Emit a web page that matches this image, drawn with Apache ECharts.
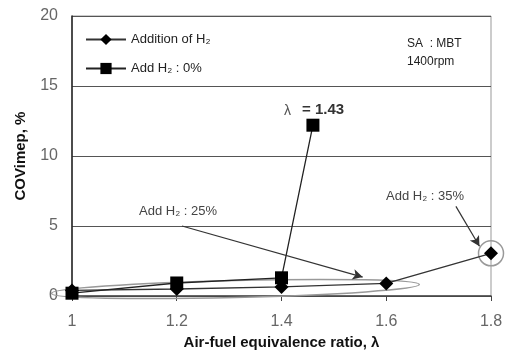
<!DOCTYPE html>
<html><head><meta charset="utf-8">
<script src="https://cdn.jsdelivr.net/npm/echarts@6/dist/echarts.min.js"></script>
<style>html,body{margin:0;padding:0;background:#fff}#c{width:512px;height:355px}</style>
</head><body><div id="c"></div>
<script>
var xTicks = [1, 1.2, 1.4, 1.6, 1.8];
var yTicks = [0, 5, 10, 15, 20];
var h2Lambda = [1, 1.2, 1.4, 1.6, 1.8];
var h2Cov = [0.4, 0.5, 0.65, 0.9, 3.05];
var zeroLambda = [1, 1.2, 1.4, 1.46];
var zeroCov = [0.2, 0.93, 1.3, 12.2];
var seriesNames = ['Addition of H\u2082', 'Add H\u2082 : 0%'];

var chart = echarts.init(document.getElementById('c'), null, {renderer: 'canvas'});
function pairs(xs, ys) { return xs.map(function (x, i) { return [x, ys[i]]; }); }
var font = 'Liberation Sans, Arial, sans-serif';
var arrowLines = [
  [{coord: [1.21, 5.0]}, {coord: [1.555, 1.35]}],
  [{coord: [1.733, 6.4]}, {coord: [1.778, 3.55]}]
];
chart.setOption({
  animation: false,
  grid: {left: 72, right: 21, top: 16, bottom: 59, show: true, borderColor: '#999', borderWidth: 1},
  xAxis: {
    type: 'value', min: 1, max: 1.8, interval: 0.2,
    axisLine: {lineStyle: {color: '#444', width: 1.5}},
    axisTick: {show: true, length: 5, lineStyle: {color: '#444'}},
    splitLine: {show: false},
    axisLabel: {color: '#666', fontSize: 16, fontFamily: font, margin: 18,
      formatter: function (v) { return String(Math.round(v * 10) / 10); }},
    name: 'Air-fuel equivalence ratio, \u03bb', nameLocation: 'middle', nameGap: 38,
    nameTextStyle: {color: '#111', fontSize: 15, fontWeight: 'bold', fontFamily: font}
  },
  yAxis: {
    type: 'value', min: 0, max: 20, interval: 5,
    axisLine: {show: true, lineStyle: {color: '#222', width: 1.5}},
    axisTick: {show: false},
    splitLine: {show: true, lineStyle: {color: '#555', width: 1.2}},
    axisLabel: {color: '#666', fontSize: 16, fontFamily: font, margin: 14},
    name: 'COVimep, %', nameLocation: 'middle', nameGap: 44,
    nameTextStyle: {color: '#111', fontSize: 15, fontWeight: 'bold', fontFamily: font}
  },
  legend: {
    orient: 'vertical', left: 80, top: 28, itemGap: 16, itemWidth: 40, itemHeight: 14,
    textStyle: {color: '#222', fontSize: 13, fontFamily: font},
    data: seriesNames
  },
  series: [
    {
      name: seriesNames[0], type: 'line', data: pairs(h2Lambda, h2Cov),
      symbol: 'diamond', symbolSize: 14,
      lineStyle: {color: '#333', width: 1.3}, itemStyle: {color: '#000'},
      markLine: {
        silent: true, symbol: ['none', 'arrow'], symbolSize: [8, 10],
        lineStyle: {color: '#333', width: 1.2, type: 'solid'},
        label: {show: false}, data: arrowLines
      }
    },
    {
      name: seriesNames[1], type: 'line', data: pairs(zeroLambda, zeroCov),
      symbol: 'rect', symbolSize: 13,
      lineStyle: {color: '#222', width: 1.3}, itemStyle: {color: '#000'}
    }
  ]
});

var c0 = chart.convertToPixel({gridIndex: 0}, [1.312, 0.5]);
var cR = chart.convertToPixel({gridIndex: 0}, [1.8, 3.05]);
chart.setOption({
  graphic: [
    {type: 'ellipse', shape: {cx: c0[0], cy: c0[1], rx: 184, ry: 8.5}, rotation: 0.024,
      originX: c0[0], originY: c0[1],
      style: {fill: 'none', stroke: '#999', lineWidth: 1.5}, z: 1},
    {type: 'circle', shape: {cx: cR[0], cy: cR[1], r: 12.5},
      style: {fill: 'none', stroke: '#999', lineWidth: 1.5}, z: 1},
    {type: 'text', left: 407, top: 35, style: {text: 'SA  : MBT\n1400rpm', fill: '#222', font: '12px ' + font, lineHeight: 18}},
    {type: 'text', left: 284, top: 104, style: {text: '\u03bb', fill: '#555', font: '14px ' + font}},
    {type: 'text', left: 302, top: 102, style: {text: '= 1.43', fill: '#333', font: 'bold 15px ' + font}},
    {type: 'text', left: 139, top: 205, style: {text: 'Add H\u2082 : 25%', fill: '#444', font: '13px ' + font}},
    {type: 'text', left: 386, top: 190, style: {text: 'Add H\u2082 : 35%', fill: '#444', font: '13px ' + font}}
  ]
});
</script></body></html>
